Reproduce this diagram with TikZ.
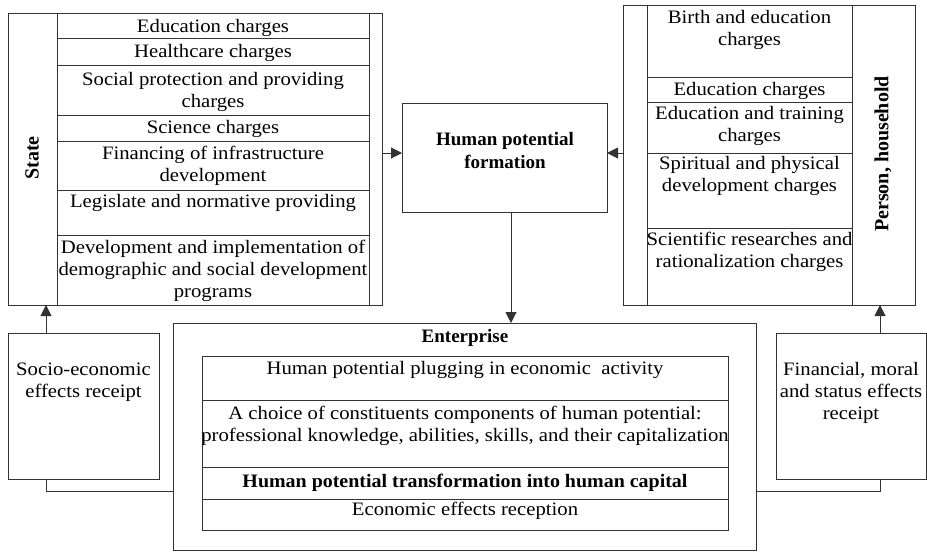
\documentclass[tikz,border=0pt]{standalone}
\usepackage{fontspec}
\setmainfont{Liberation Serif}[FakeStretch=1.09]
\newfontfamily\bfnt{Liberation Serif}
\newfontfamily\bfwide{Liberation Serif}[FakeStretch=1.05]
\usetikzlibrary{arrows.meta}
\tikzset{
  ln/.style={draw=black!80, line width=1pt},
  box/.style={ln, inner sep=0pt, outer sep=0pt},
  arr/.style={ln, -{Triangle[length=11pt,width=11pt]}},
  t/.style={inner sep=0pt, align=center, anchor=base, font=\fontsize{19}{22}\selectfont},
  bt/.style={inner sep=0pt, align=center, anchor=base, font=\bfnt\bfseries\fontsize{19}{23}\selectfont},
  vt/.style={inner sep=0pt, anchor=center, rotate=90, font=\bfnt\bfseries\fontsize{20}{23}\selectfont},
}
\begin{document}
\begin{tikzpicture}[x=1pt,y=-1pt]
\useasboundingbox (0,0) rectangle (927,552);
% State
\node[box, minimum width=374pt, minimum height=292pt] (state) at (195,159) {};
\draw[ln] (57,13) -- (57,305);
\draw[ln] (369,13) -- (369,305);
\foreach \y in {38,65,115,141,190,235} \draw[ln] (57,\y) -- (369,\y);
\node[t] (s1) at (213,32) {Education charges};
\node[t] (s2) at (213,57) {Healthcare charges};
\node[t] (s3) at (213,107) {Social protection and providing\\charges};
\node[t] (s4) at (213,133) {Science charges};
\node[t] (s5) at (213,181) {Financing of infrastructure\\development};
\node[t] (s6) at (213,207) {Legislate and normative providing};
\node[t] (s7) at (213,297) {Development and implementation of\\demographic and social development\\programs};
\node[vt] (statelbl) at (32,158) {State};
% Person
\node[box, minimum width=292pt, minimum height=300pt] (person) at (769,155) {};
\draw[ln] (647,5) -- (647,305);
\draw[ln] (852,5) -- (852,305);
\foreach \y in {77,102,153,228} \draw[ln] (647,\y) -- (852,\y);
\node[t] (p1) at (749.5,45) {Birth and education\\charges};
\node[t] (p2) at (749.5,95) {Education charges};
\node[t] (p3) at (749.5,141) {Education and training\\charges};
\node[t] (p4) at (749.5,191) {Spiritual and physical\\development charges};
\node[t] (p5) at (749.5,267) {Scientific researches and\\rationalization charges};
\node[vt] (personlbl) at (883,154) {Person, household};
% Human potential formation
\node[box, minimum width=205pt, minimum height=109pt] (hpf) at (504.5,157.5) {};
\node[bt] (hpft) at (505,168) {Human potential\\formation};
% Enterprise
\node[box, minimum width=583pt, minimum height=227pt] (ent) at (464.5,436.5) {};
\node[bt] (entt) at (465,342) {Enterprise};
\draw[ln] (202,356) rectangle (728,530);
\foreach \y in {400,467,499} \draw[ln] (202,\y) -- (728,\y);
\node[t] (e1) at (465,374) {Human potential plugging in economic~ activity};
\node[t] (e2) at (465,441) {A choice of constituents components of human potential:\\professional knowledge, abilities, skills, and their capitalization};
\node[bt, font=\bfwide\bfseries\fontsize{19}{23}\selectfont] (e3) at (465,487) {Human potential transformation into human capital};
\node[t] (e4) at (465,515) {Economic effects reception};
% Side boxes
\node[box, minimum width=151pt, minimum height=146pt] (socio) at (83.5,406) {};
\node[t] (sociot) at (83.5,397) {Socio-economic\\effects receipt};
\node[box, minimum width=150pt, minimum height=146pt] (fin) at (851,406) {};
\node[t] (fint) at (851,419) {Financial, moral\\and status effects\\receipt};
% Connectors
\coordinate (ay) at (0,153);
\coordinate (dx) at (511,0);
\coordinate (lx) at (46,0);
\coordinate (rx) at (880,0);
\coordinate (by) at (0,491);
\draw[arr] (state.east |- ay) -- (hpf.west |- ay);
\draw[arr] (person.west |- ay) -- (hpf.east |- ay);
\draw[arr] (hpf.south -| dx) -- (ent.north -| dx);
\draw[arr] (socio.north -| lx) -- (state.south -| lx);
\draw[arr] (fin.north -| rx) -- (person.south -| rx);
\draw[ln] (ent.west |- by) -| (socio.south -| lx);
\draw[ln] (ent.east |- by) -| (fin.south -| rx);
\end{tikzpicture}
\end{document}
